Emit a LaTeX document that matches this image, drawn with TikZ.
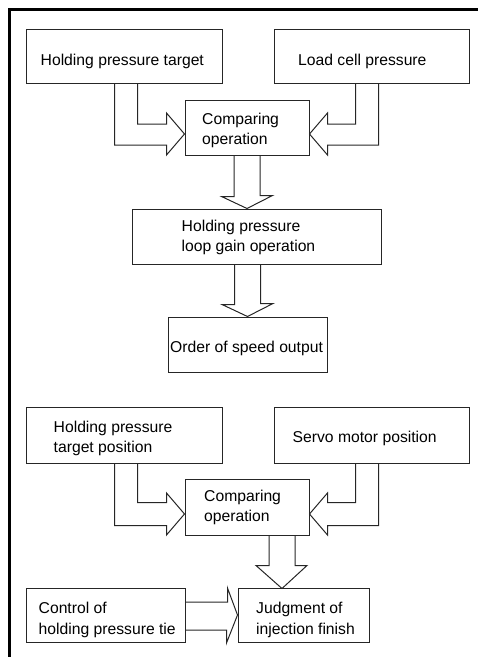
\documentclass[tikz,border=0pt]{standalone}
\usepackage{fontspec}
\setmainfont{Liberation Sans}
\usetikzlibrary{calc}
\begin{document}
\begin{tikzpicture}[x=1pt,y=-1pt,
  box/.style n args={2}{draw=black!85, line width=1pt, inner sep=0pt,
    minimum width=#1pt, minimum height=#2pt},
  lbl/.style={anchor=base west, inner sep=0pt, align=left,
    font=\fontsize{15.7}{20.5}\selectfont},
  harrow/.style={draw=black!85, line width=1pt, line join=miter}]
\useasboundingbox (0,0) rectangle (483,657);
\draw[line width=2.5pt] (9.5,657) -- (9.5,9.5) -- (478,9.5);
% boxes
\node[box={196}{54}] (A) at (124,56) {};
\node[box={195}{54}] (B) at (371.5,56) {};
\node[box={124}{55}] (C1) at (247,127.5) {};
\node[box={249}{55}] (L) at (256.5,236.5) {};
\node[box={159}{55}] (O) at (247.5,344.5) {};
\node[box={196}{56}] (D) at (124,435) {};
\node[box={195}{56}] (E) at (371.5,435) {};
\node[box={124}{56}] (C2) at (247,507) {};
\node[box={159}{54}] (K) at (105.5,615) {};
\node[box={131}{54}] (J) at (303.5,615) {};
% labels (anchor = baseline of the last line)
\node[lbl] (tA) at (40.5,65) {Holding pressure target};
\node[lbl] (tB) at (298,65) {Load cell pressure};
\node[lbl] (tC1) at (202,144.5) {Comparing\\operation};
\node[lbl] (tL) at (181.5,251.5) {Holding pressure\\loop gain operation};
\node[lbl] (tO) at (170,352) {Order of speed output};
\node[lbl] (tD) at (53.5,452.5) {Holding pressure\\target position};
\node[lbl] (tE) at (292.5,442.5) {Servo motor position};
\node[lbl] (tC2) at (204,521.5) {Comparing\\operation};
\node[lbl] (tK) at (38.5,634) {Control of\\holding pressure tie};
\node[lbl] (tJ) at (256,634) {Judgment of\\injection finish};
% hollow arrows
\draw[harrow] ($(A.south west)+(89,0)$) |- ($(C1.west)+(-18,17.5)$) -- ++(0,10)
  -- ($(C1.west)+(0,6.5)$) -- ($(C1.west)+(-18,-14.5)$) -- ++(0,11)
  -| ($(A.south west)+(112,0)$);
\draw[harrow] ($(B.south west)+(105,0)$) |- ($(C1.east)+(18,17.5)$) -- ++(0,10)
  -- ($(C1.east)+(0,6.5)$) -- ($(C1.east)+(18,-14.5)$) -- ++(0,11)
  -| ($(B.south west)+(82,0)$);
\draw[harrow] ($(C1.south)+(-13,0)$) -- ++(0,41) -- ++(-12.5,0)
  -- (C1.south |- L.north) -- ++(25.5,-13) -- ++(-12.5,0) -- ($(C1.south)+(13,0)$);
\draw[harrow] ($(O.north |- L.south)+(-13,0)$) -- ++(0,40) -- ++(-12.5,0)
  -- (O.north) -- ++(25.5,-13) -- ++(-12.5,0) -- ($(O.north |- L.south)+(13,0)$);
\draw[harrow] ($(D.south west)+(89,0)$) |- ($(C2.west)+(-18,18.5)$) -- ++(0,9.5)
  -- ($(C2.west)+(0,7)$) -- ($(C2.west)+(-18,-14)$) -- ++(0,9.5)
  -| ($(D.south west)+(112,0)$);
\draw[harrow] ($(E.south west)+(105,0)$) |- ($(C2.east)+(18,18.5)$) -- ++(0,9.5)
  -- ($(C2.east)+(0,7)$) -- ($(C2.east)+(18,-14)$) -- ++(0,9.5)
  -| ($(E.south west)+(82,0)$);
\draw[harrow] ($(C2.south)+(22,0)$) -- ++(0,30) -- ++(-13,0)
  -- ++(26,23) -- ++(25,-23) -- ++(-12,0) -- ($(C2.south)+(48,0)$);
\draw[harrow] ($(K.east)+(0,-13)$) -- ++(42,0) -- ++(0,-14)
  -- (J.west) -- ++(-11,28) -- ++(0,-13) -- ($(K.east)+(0,15)$);
\end{tikzpicture}
\end{document}
